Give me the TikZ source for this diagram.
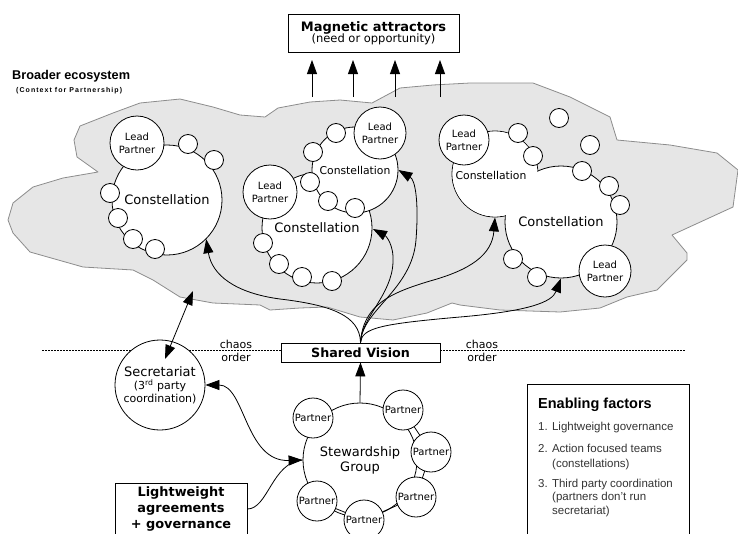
\documentclass[tikz,border=0pt]{standalone}
\usepackage{fontspec}
\setmainfont{DejaVu Sans}
\newfontfamily\hel{Liberation Sans}
\usetikzlibrary{arrows.meta,calc}
\definecolor{cloudfill}{HTML}{E6E6E6}
\definecolor{cloudline}{HTML}{8C8C8C}
\definecolor{efgray}{HTML}{333333}
\tikzset{
  conn/.style={line width=0.8pt},
  bigc/.style={circle, draw, fill=white, line width=0.8pt, inner sep=0pt},
  leadp/.style={circle, draw, fill=white, line width=0.8pt, inner sep=0pt, align=center, font=\fontsize{10}{13}\selectfont},
  dotc/.style={circle, draw, fill=white, line width=0.8pt, inner sep=0pt, minimum size=19pt},
  partner/.style={circle, draw, fill=white, line width=0.8pt, inner sep=0pt, minimum size=40pt, font=\fontsize{10}{12}\selectfont},
  arr/.style={line width=0.8pt, -{Triangle[length=14pt,width=10pt]}},
  darr/.style={line width=0.8pt, {Triangle[length=14pt,width=10pt]}-{Triangle[length=14pt,width=10pt]}},
  bigtxt/.style={font=\fontsize{13}{15}\selectfont},
  smalltxt/.style={font=\fontsize{10.8}{13}\selectfont},
  eftxt/.style={anchor=base west, inner sep=0pt, text=efgray, font=\hel\fontsize{11.5}{14}\selectfont},
  dashline/.style={line width=0.6pt, dash pattern=on 2pt off 1pt},
}
\begin{document}
\begin{tikzpicture}[x=1pt,y=-1pt]
\useasboundingbox (0,0) rectangle (738,533);

% ---------- cloud (broader ecosystem)
\draw[fill=cloudfill, draw=cloudline, line width=0.8pt, line join=round]
  (80,126) -- (113,113) -- (140,103) -- (180,99) -- (213,107) -- (240,115) -- (265,117)
  -- (278,108) -- (310,102) -- (340,100) -- (372,103) -- (400,88) -- (433,85) -- (470,83)
  -- (533,83) -- (570,97) -- (610,117) -- (617,140) -- (670,145) -- (717,153) -- (738,170)
  -- (733,207) -- (672,235) -- (687,253) -- (687,260) -- (657,290) -- (627,297) -- (600,308)
  -- (560,312) -- (500,310) -- (460,305) -- (452,303) -- (427,313) -- (393,320) -- (360,317)
  -- (327,307) -- (300,308) -- (270,310) -- (260,305) -- (213,303) -- (180,297) -- (153,280)
  -- (133,270) -- (83,267) -- (30,252) -- (13,233) -- (8,220) -- (13,203) -- (33,187)
  -- (63,178) -- (98,172) -- (77,157) -- (74,140) -- cycle;

% ---------- titles
\node[anchor=west, inner sep=0pt, font=\hel\bfseries\fontsize{12.7}{15}\selectfont] (broad) at (12,76) {Broader ecosystem};
\node[anchor=west, inner sep=0pt, font=\hel\bfseries\fontsize{7}{8}\selectfont\addfontfeatures{LetterSpace=15}] (ctx) at (16,91) {(Context for Partnership)};

\node[draw, line width=0.8pt, minimum width=171pt, minimum height=38pt, align=center, inner sep=0pt] (mag) at (373.5,33)
  {{\bfseries\fontsize{13}{16}\selectfont Magnetic attractors}\\[-1pt]{\fontsize{11.5}{13}\selectfont (need or opportunity)}};

% magnetic arrows
\coordinate (m1b) at (312,97); \coordinate (m1t) at (312,60);
\coordinate (m2b) at (353,97); \coordinate (m2t) at (353,60);
\coordinate (m3b) at (395,97); \coordinate (m3t) at (395,60);
\coordinate (m4b) at (440,97); \coordinate (m4t) at (440,60);
\draw[arr] (m1b) -- (m1t);
\draw[arr] (m2b) -- (m2t);
\draw[arr] (m3b) -- (m3t);
\draw[arr] (m4b) -- (m4t);

% ---------- Constellation 1
\node[bigc, bigtxt, minimum size=110pt] (c1) at (167,200) {Constellation};
\node[leadp, minimum size=54pt] (l1) at (137,143) {Lead\\Partner};
\node[dotc] (d11) at (188,144) {};
\node[dotc] (d12) at (214,160) {};
\node[dotc] (d13) at (110,193) {};
\node[dotc] (d14) at (118,218) {};
\node[dotc] (d15) at (133,239) {};
\node[dotc] (d16) at (155,249) {};

% ---------- Constellation 2
\node[bigc, bigtxt, minimum size=110pt] (c2) at (317,228) {\raisebox{-2pt}{Constellation}};
\node[leadp, minimum size=54pt] (l2) at (270,192) {Lead\\Partner};
\node[dotc] (d21) at (263,243) {};
\node[dotc] (d22) at (279,264) {};
\node[dotc] (d23) at (302,277) {};
\node[dotc] (d24) at (332,281) {};

% ---------- Constellation 3
\node[bigc, smalltxt, minimum size=86pt] (c3) at (355,170) {Constellation};
\node[leadp, minimum size=52pt] (l3) at (380,133) {Lead\\Partner};
\node[dotc] (d31) at (336,133) {};
\node[dotc] (d32) at (313,152) {};
\node[dotc] (d33) at (310,182) {};
\node[dotc] (d34) at (328,201) {};
\node[dotc] (d35) at (355,208) {};

% ---------- Constellations 4 and 5 (merged outline)
\node[bigc, minimum size=86pt] (c4) at (495,174) {};
\node[bigc, bigtxt, minimum size=112pt] (c5) at (561,222) {Constellation};
\fill[white] (c4.center) circle (42.5);
\node[smalltxt, inner sep=0pt] (c4t) at (491,175) {Constellation};
\node[leadp, minimum size=50pt] (l4) at (464,140) {Lead\\Partner};
\node[dotc] (d41) at (518,133) {};
\node[dotc] (d42) at (533,156) {};
\node[leadp, minimum size=52pt] (l5) at (605,271) {Lead\\Partner};
\node[dotc] (d51) at (582,171) {};
\node[dotc] (d52) at (609,186) {};
\node[dotc] (d53) at (620,205) {};
\node[dotc] (d54) at (513,259) {};
\node[dotc] (d55) at (537,277) {};
\node[dotc] (f1) at (559,118) {};
\node[dotc] (f2) at (590,145) {};

% ---------- chaos / order line
\coordinate (dl) at (42,350);
\coordinate (dr) at (686,350);
\node[draw, line width=0.8pt, minimum width=159pt, minimum height=19pt, inner sep=0pt, font=\bfseries\fontsize{12.7}{15}\selectfont] (sv) at (360.5,352.5) {Shared Vision};
\draw[dashline] (dl) -- (dl -| sv.west);
\draw[dashline] (dr -| sv.east) -- (dr);
\node[align=center, inner sep=0pt, font=\fontsize{11}{13}\selectfont] (co1) at (236,350.5) {chaos\\order};
\node[align=center, inner sep=0pt, font=\fontsize{11}{13}\selectfont] (co2) at (482,351) {chaos\\order};

% ---------- Secretariat
\node[bigc, minimum size=90pt, align=center, font=\fontsize{11}{13}\selectfont] (sec) at (160,385)
  {{\fontsize{13}{15}\selectfont Secretariat}\\(3\textsuperscript{rd} party\\coordination)};
\coordinate (ecoT) at (193,291);
\coordinate (secT) at (165,359);
\draw[darr] (ecoT) -- (secT);

% ---------- Stewardship group
\node[bigc, minimum size=114pt, align=center, font=\fontsize{13}{15}\selectfont] (stew) at (360,460) {Stewardship\\Group};
\coordinate (q1) at (313,418);
\coordinate (q2) at (403,410);
\coordinate (q3) at (431,452);
\coordinate (q4) at (416,497);
\coordinate (q5) at (364,520);
\coordinate (q6) at (317,501);
\draw[conn] (q2) -- (q3) -- (q4) -- (q5) -- (q6);
\node[partner] (p1) at (q1) {Partner};
\node[partner] (p2) at (q2) {Partner};
\node[partner] (p3) at (q3) {Partner};
\node[partner] (p4) at (q4) {Partner};
\node[partner] (p5) at (q5) {Partner};
\node[partner] (p6) at (q6) {Partner};
\draw[arr] (stew.north) -- (sv.south);

% ---------- Lightweight agreements
\node[draw, line width=0.8pt, minimum width=132pt, minimum height=52pt, align=center, inner sep=0pt, font=\bfseries\fontsize{12.9}{16}\selectfont] (lw) at (181,509) {Lightweight\\agreements\\+ governance};
\draw[conn] (lw.east) .. controls (268,509) and (272,462) .. (stew.west);
\draw[darr] (sec.east) .. controls (245,385) and (245,462) .. (stew.west);

% ---------- arrows from shared vision
\draw[arr] (sv.north) .. controls (360,315) and (330,305) .. (280,299) .. controls (235,293) and (212,275) .. (c1.-45);
\draw[arr] (sv.north) .. controls (361,318) and (392,295) .. (393,262) .. controls (394,245) and (386,236) .. (373,229);
\draw[arr] (sv.north) .. controls (362,310) and (412,290) .. (416,240) .. controls (419,200) and (415,180) .. (c3.east);
\draw[arr] (sv.north) .. controls (363,305) and (390,293) .. (430,281) .. controls (470,270) and (492,255) .. (c4.south);
\draw[arr] (sv.north) .. controls (362,328) and (380,324) .. (460,317) .. controls (530,311) and (552,302) .. (c5.south);

% ---------- Enabling factors
\node[draw, line width=0.8pt, minimum width=162pt, minimum height=160pt, anchor=north west, inner sep=0pt] (ef) at (527,384) {};
\node[anchor=base west, inner sep=0pt, font=\hel\bfseries\fontsize{14.5}{17}\selectfont] (eft) at (538,408) {Enabling factors};
\node[eftxt] (e1) at (538,430) {1. Lightweight governance};
\node[eftxt] (e2) at (538,452) {2. Action focused teams};
\node[eftxt] (e2b) at (552,467) {(constellations)};
\node[eftxt] (e3) at (538,487) {3. Third party coordination};
\node[eftxt] (e3b) at (552,500.5) {(partners don’t run};
\node[eftxt] (e3c) at (552,514) {secretariat)};
\end{tikzpicture}
\end{document}
